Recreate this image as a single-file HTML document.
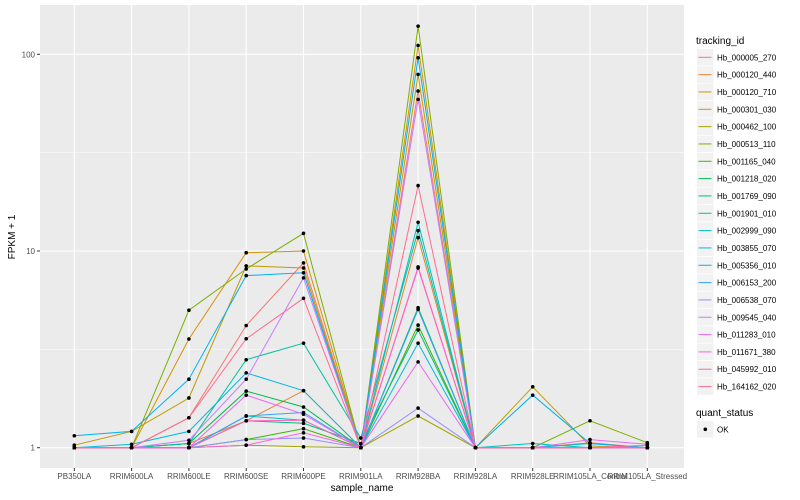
<!DOCTYPE html>
<html><head><meta charset="utf-8"><style>
body{margin:0;background:#fff;}
svg{display:block;font-family:"Liberation Sans",sans-serif;}
</style></head><body>
<svg id="c" width="800" height="500"></svg>
<script>
const categories=["PB350LA","RRIM600LA","RRIM600LE","RRIM600SE","RRIM600PE","RRIM901LA","RRIM928BA","RRIM928LA","RRIM928LE","RRIM105LA_Control","RRIM105LA_Stressed"];
const seriesNames=["Hb_000005_270","Hb_000120_440","Hb_000120_710","Hb_000301_030","Hb_000462_100","Hb_000513_110","Hb_001165_040","Hb_001218_020","Hb_001769_090","Hb_001901_010","Hb_002999_090","Hb_003855_070","Hb_005356_010","Hb_006153_200","Hb_006538_070","Hb_009545_040","Hb_011283_010","Hb_011671_380","Hb_045992_010","Hb_164162_020"];
const seriesColors=["#F8766D","#EA8331","#D89000","#C09B00","#A3A500","#7CAE00","#39B600","#00BB4E","#00BF7D","#00C1A3","#00BFC4","#00BAE0","#00B0F6","#35A2FF","#9590FF","#C77CFF","#E76BF3","#FA62DB","#FF62BC","#FF6C91"];
const s00=[1,1,1.42,4.18,8.7,1,65,1,1,1,1];
const s01=[1,1,1.05,1.37,1.95,1,11.7,1,1,1.06,1];
const s02=[1,1,3.57,9.8,10,1,111,1,1,1,1];
const s03=[1.03,1.21,1.79,8.4,8.2,1,79,1,2.04,1.02,1];
const s04=[1,1,1,1.03,1.01,1,1.45,1,1,1,1];
const s05=[1,1,5.0,8.1,12.3,1,139,1,1,1.37,1.06];
const s06=[1,1,1,1.10,1.25,1,4.2,1,1,1,1];
const s07=[1,1,1.05,1.94,1.61,1,5.15,1,1,1,1];
const s08=[1,1,1,1.37,1.33,1.05,3.97,1,1,1,1];
const s09=[1,1,1.05,2.80,3.4,1.12,12.7,1,1,1,1];
const s10=[1,1,1,1.45,1.38,1,14,1,1.05,1,1];
const s11=[1,1.04,1.21,2.40,1.95,1,3.4,1,1,1.05,1];
const s12=[1.15,1.21,2.23,7.5,7.75,1,96,1,1.85,1.05,1];
const s13=[1,1,1,1.45,1.51,1,5.05,1,1,1,1];
const s14=[1,1,1,1.10,1.12,1,1.59,1,1,1,1];
const s15=[1,1,1.09,2.23,7.3,1,59,1,1,1,1];
const s16=[1,1,1,1.85,1.48,1,2.73,1,1,1.1,1.04];
const s17=[1,1,1,1.03,1.19,1,8.3,1,1,1,1];
const s18=[1,1,1,1.37,1.38,1,8.2,1,1,1,1.03];
const s19=[1,1,1.42,3.58,5.75,1,21.5,1,1,1,1];
const seriesValues=[s00,s01,s02,s03,s04,s05,s06,s07,s08,s09,s10,s11,s12,s13,s14,s15,s16,s17,s18,s19];
const yTicks=[1,10,100];
const yTickLabels=["1","10","100"];

const NS="http://www.w3.org/2000/svg";
const svg=document.getElementById("c");
function mk(tag,attrs,parent){const e=document.createElementNS(NS,tag);for(const k in attrs)e.setAttribute(k,attrs[k]);(parent||svg).appendChild(e);return e;}
const PL=40,PT=5,PR=684,PB=468;
function xScale(i){return 74.3+57.3*i;}
function yScale(v){return 447.7-196.7*Math.log10(v);}

const panel=mk("rect",{x:PL,y:PT,width:PR-PL,height:PB-PT,fill:"#EBEBEB"});


// minor grid
for(let k=0;k<yTicks.length-1;k++){const lv=(Math.log10(yTicks[k])+Math.log10(yTicks[k+1]))/2;const y=yScale(Math.pow(10,lv));
const g=mk("line",{x1:PL,x2:PR,y1:y,y2:y,stroke:"#fff","stroke-width":0.5});

}
yTicks.forEach((t,k)=>{const y=yScale(t);
const g=mk("line",{x1:PL,x2:PR,y1:y,y2:y,stroke:"#fff","stroke-width":1.1});


const tk=mk("line",{x1:PL-3,x2:PL,y1:y,y2:y,stroke:"#333","stroke-width":1});


const tx=mk("text",{x:PL-5,y:y+3,"text-anchor":"end","font-size":8,fill:"#4D4D4D"});tx.textContent=yTickLabels[k];

});
categories.forEach((c,i)=>{const x=xScale(i);
const g=mk("line",{x1:x,x2:x,y1:PT,y2:PB,stroke:"#fff","stroke-width":1.1});


const tk=mk("line",{x1:x,x2:x,y1:PB,y2:PB+3,stroke:"#333","stroke-width":1});


const tx=mk("text",{x:x,y:PB+11,"text-anchor":"middle","font-size":8,fill:"#4D4D4D"});tx.textContent=c;

});
seriesValues.forEach((vals,s)=>{
const d=vals.map((v,i)=>(i?"L":"M")+xScale(i).toFixed(1)+","+yScale(v).toFixed(1)).join(" ");
const p=mk("path",{d:d,fill:"none",stroke:seriesColors[s],"stroke-width":1});

});
seriesValues.forEach((vals,s)=>{vals.forEach((v,i)=>{
const c=mk("circle",{cx:xScale(i),cy:yScale(v),r:1.8,fill:"#000"});

});});
const xt=mk("text",{x:362,y:491,"text-anchor":"middle","font-size":10,fill:"#000"});xt.textContent="sample_name";


const yt=mk("text",{x:0,y:0,"text-anchor":"middle","font-size":10,fill:"#000",transform:"translate(15,237) rotate(-90)"});yt.textContent="FPKM + 1";


// legend
const lt=mk("text",{x:696,y:44,"font-size":10,fill:"#000"});lt.textContent="tracking_id";


seriesNames.forEach((n,s)=>{const cy=57.3+17.33*s;
const g=mk("g",{});


mk("rect",{x:697,y:cy-8.3,width:16.6,height:16.6,fill:"#F2F2F2"},g);
mk("line",{x1:698.5,x2:711.5,y1:cy,y2:cy,stroke:seriesColors[s],"stroke-width":1},g);
const t=mk("text",{x:717,y:cy+3,"font-size":8,fill:"#000"},g);t.textContent=n;});
const qt=mk("text",{x:696,y:416,"font-size":10,fill:"#000"});qt.textContent="quant_status";


const qg=mk("g",{});


mk("rect",{x:697,y:421,width:16.6,height:16.6,fill:"#F2F2F2"},qg);
mk("circle",{cx:705.3,cy:429.3,r:1.8,fill:"#000"},qg);
const ot=mk("text",{x:717,y:432.3,"font-size":8,fill:"#000"},qg);ot.textContent="OK";
</script>
</body></html>
